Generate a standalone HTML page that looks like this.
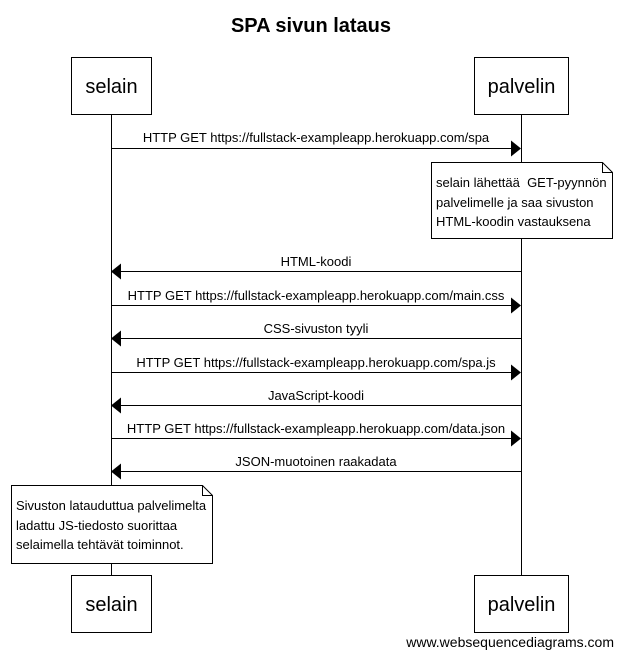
<!DOCTYPE html>
<html><head><meta charset="utf-8"><style>
html,body{margin:0;padding:0;background:#fff;}
svg{display:block;}
text{font-family:"Liberation Sans",Arial,sans-serif;fill:#000;}
</style></head><body>
<svg width="622" height="657" viewBox="0 0 622 657" xmlns="http://www.w3.org/2000/svg">
<text x="311" y="32" font-size="20" font-weight="bold" text-anchor="middle">SPA sivun lataus</text>
<g stroke="#000" stroke-width="1" fill="#fff">
<line x1="111.5" y1="114" x2="111.5" y2="575"/>
<line x1="521.5" y1="114" x2="521.5" y2="575"/>
<rect x="71.5" y="57.5" width="80" height="57"/>
<rect x="474.5" y="57.5" width="94" height="57"/>
<rect x="71.5" y="575.5" width="80" height="57"/>
<rect x="474.5" y="575.5" width="94" height="57"/>
<path d="M431.5 162.5 H602.5 L612.5 172.5 V238.5 H431.5 Z"/>
<path d="M602.5 162.5 V172.5 H612.5" fill="none"/>
<path d="M11.5 485.5 H202.5 L212.5 495.5 V563.5 H11.5 Z"/>
<path d="M202.5 485.5 V495.5 H212.5" fill="none"/>
</g>
<g font-size="20" text-anchor="middle">
<text x="111.5" y="93">selain</text>
<text x="521.5" y="93">palvelin</text>
<text x="111.5" y="611">selain</text>
<text x="521.5" y="611">palvelin</text>
</g>
<g stroke="#000" stroke-width="1">
<line x1="111" y1="148.5" x2="512" y2="148.5"/>
<line x1="120" y1="271.5" x2="521" y2="271.5"/>
<line x1="111" y1="305.5" x2="512" y2="305.5"/>
<line x1="120" y1="338.5" x2="521" y2="338.5"/>
<line x1="111" y1="372.5" x2="512" y2="372.5"/>
<line x1="120" y1="405.5" x2="521" y2="405.5"/>
<line x1="111" y1="438.5" x2="512" y2="438.5"/>
<line x1="120" y1="471.5" x2="521" y2="471.5"/>
</g>
<g fill="#000">
<path d="M511 140.5 L521 148.5 L511 156.5 Z"/>
<path d="M121 263.5 L111 271.5 L121 279.5 Z"/>
<path d="M511 297.5 L521 305.5 L511 313.5 Z"/>
<path d="M121 330.5 L111 338.5 L121 346.5 Z"/>
<path d="M511 364.5 L521 372.5 L511 380.5 Z"/>
<path d="M121 397.5 L111 405.5 L121 413.5 Z"/>
<path d="M511 430.5 L521 438.5 L511 446.5 Z"/>
<path d="M121 463.5 L111 471.5 L121 479.5 Z"/>
</g>
<g font-size="13" text-anchor="middle">
<text x="316" y="142">HTTP GET https://fullstack-exampleapp.herokuapp.com/spa</text>
<text x="316" y="266">HTML-koodi</text>
<text x="316" y="300">HTTP GET https://fullstack-exampleapp.herokuapp.com/main.css</text>
<text x="316" y="333">CSS-sivuston tyyli</text>
<text x="316" y="367">HTTP GET https://fullstack-exampleapp.herokuapp.com/spa.js</text>
<text x="316" y="400">JavaScript-koodi</text>
<text x="316" y="433">HTTP GET https://fullstack-exampleapp.herokuapp.com/data.json</text>
<text x="316" y="466">JSON-muotoinen raakadata</text>
</g>
<g font-size="13">
<text x="436" y="187">selain lähettää&#160; GET-pyynnön</text>
<text x="436" y="207">palvelimelle ja saa sivuston</text>
<text x="436" y="226">HTML-koodin vastauksena</text>
<text x="16" y="510">Sivuston latauduttua palvelimelta</text>
<text x="16" y="530">ladattu JS-tiedosto suorittaa</text>
<text x="16" y="549">selaimella tehtävät toiminnot.</text>
</g>
<text x="614" y="647" font-size="14" text-anchor="end">www.websequencediagrams.com</text>
</svg>
</body></html>
